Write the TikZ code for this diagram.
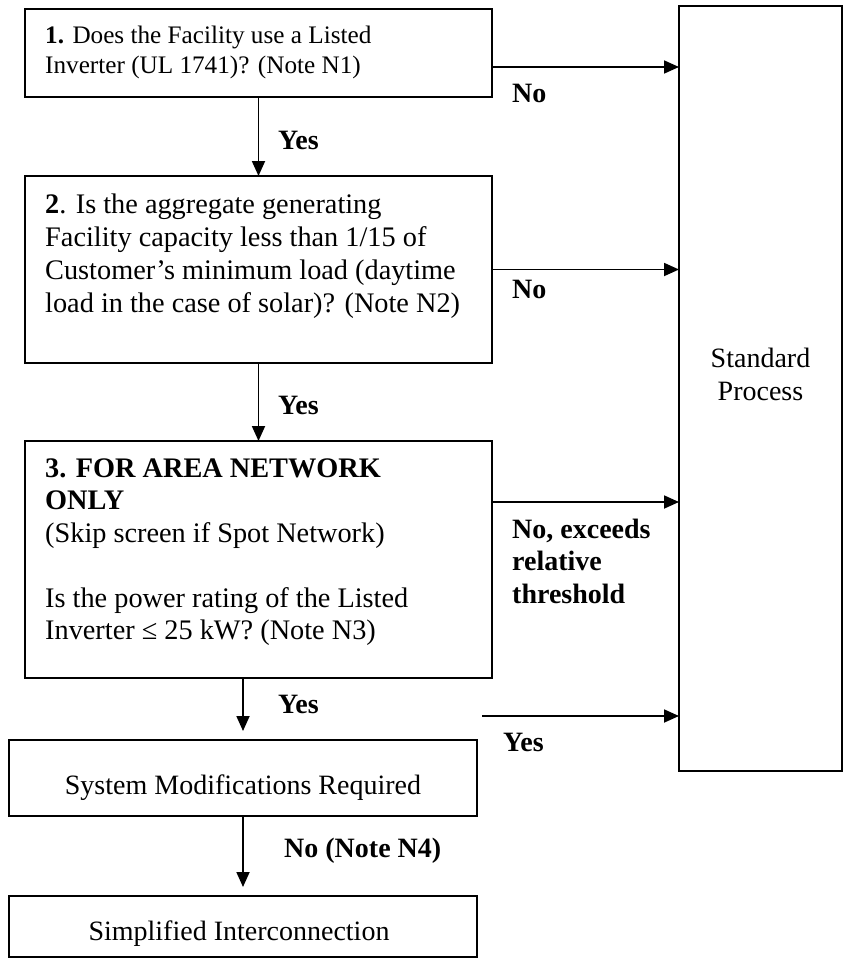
\documentclass[tikz,border=0pt]{standalone}
\usepackage{fontspec}
\setmainfont{Liberation Serif}
\usetikzlibrary{arrows.meta}
\begin{document}
\begin{tikzpicture}[x=1pt,y=-1pt,
  box/.style={draw, line width=1.8pt, inner sep=0pt, outer sep=0pt},
  arr/.style={line width=1.8pt, -{Triangle[length=15pt,width=13pt]}},
  txt/.style={inner sep=0pt, align=left, anchor=north west, font=\fontsize{28.3}{33}\selectfont},
  lbl/.style={inner sep=0pt, anchor=base west, align=left, font=\fontsize{28}{32.5}\selectfont\bfseries},
  ctr/.style={inner sep=0pt, anchor=base, font=\fontsize{28}{33}\selectfont}]
\useasboundingbox (0,0) rectangle (847,958);
% boxes
\node[box, minimum width=467pt, minimum height=88pt] (b1) at (258.5,53) {};
\node[box, minimum width=467pt, minimum height=187pt] (b2) at (258.5,269.5) {};
\node[box, minimum width=467pt, minimum height=237pt] (b3) at (258.5,559.5) {};
\node[box, minimum width=468pt, minimum height=76pt] (smr) at (243,778) {};
\node[box, minimum width=468pt, minimum height=61pt] (si) at (243,926.5) {};
\node[box, minimum width=163pt, minimum height=765pt] (std) at (760.5,388.5) {};
% texts
\node[txt, font=\fontsize{25.2}{30}\selectfont] (t1) at (45,22) {\strut\textbf{1.} Does the Facility use a Listed\\Inverter (UL 1741)? (Note N1)};
\node[txt] (t2) at (45,189.9) {\strut\textbf{2}. Is the aggregate generating\\Facility capacity less than 1/15 of\\Customer’s minimum load (daytime\\load in the case of solar)? (Note N2)};
\node[txt, font=\fontsize{28.3}{32.5}\selectfont] (t3) at (45,454.25) {\strut\textbf{3. FOR AREA NETWORK}\\\textbf{ONLY}\\(Skip screen if Spot Network)\\[32.5pt]Is the power rating of the Listed\\Inverter ≤ 25 kW? (Note N3)};
\node[ctr] (t4) at (243,794) {System Modifications Required};
\node[ctr] (t5) at (239,940) {Simplified Interconnection};
\node[txt, align=center, anchor=north, font=\fontsize{28}{33}\selectfont] (t6) at (760.5,344) {\strut Standard\\Process};
% connectors
\draw[arr] (b1.south) -- (b2.north);
\draw[arr] (b2.south) -- (b3.north);
\draw[arr, shorten >=9pt] (b3.south -| smr.north) -- (smr.north);
\draw[arr, shorten >=9pt] (smr.south) -- (si.north);
\draw[arr] ([yshift=-14pt]b1.east) coordinate (a1) -- (a1 -| std.west);
\draw[arr] (b2.east) -- (b2.east -| std.west);
\draw[arr] ([yshift=57.5pt]b3.east) coordinate (a3) -- (a3 -| std.west);
\coordinate (y0) at (482,716);
\draw[arr] (y0) -- (y0 -| std.west);
% labels
\node[lbl] (l1) at (512,102) {No};
\node[lbl] (l2) at (512,298) {No};
\node[lbl, anchor=north west] (l3) at (512,515.25) {\strut No, exceeds\\relative\\threshold};
\node[lbl] (l4) at (278,149) {Yes};
\node[lbl] (l5) at (278,414) {Yes};
\node[lbl] (l6) at (278,713) {Yes};
\node[lbl] (l7) at (503,751) {Yes};
\node[lbl] (l8) at (284,857) {No (Note N4)};
\end{tikzpicture}
\end{document}
